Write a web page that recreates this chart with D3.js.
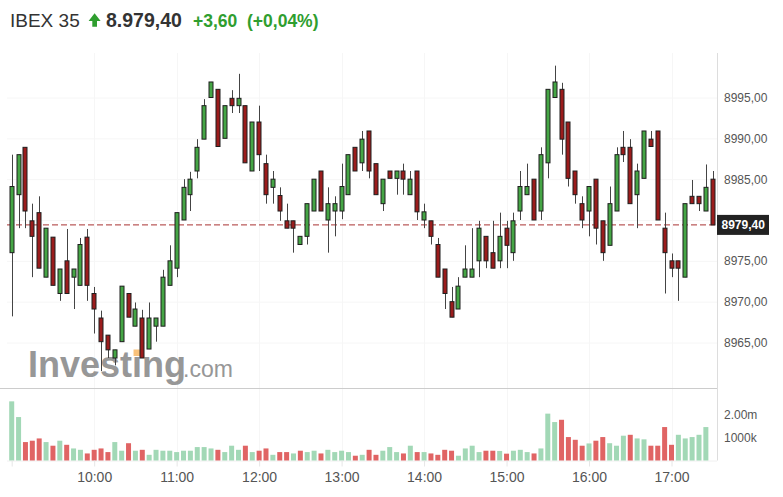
<!doctype html>
<html>
<head>
<meta charset="utf-8">
<style>
  body { margin: 0; background: #fff; }
  svg { display: block; font-family: "Liberation Sans", Arial, sans-serif; }
  .grid line { stroke: #f6f6f6; }
  .axis text { fill: #555; }
</style>
<script src="https://cdn.jsdelivr.net/npm/d3@7"></script>
</head>
<body>
<svg id="chart" width="783" height="497"></svg>
<script>

// IBEX 35, 5-minute candles from 09:00
var open = [
  8976.0, 8983.1, 8988.9, 8979.9, 8980.9, 8973.0, 8977.9, 8971.0, 8975.0, 8973.0,
  8972.0, 8977.9, 8971.0, 8968.0, 8965.9, 8963.1, 8965.1, 8971.0, 8967.0, 8968.0,
  8964.2, 8967.0, 8967.0, 8972.0, 8974.1, 8980.0, 8983.1, 8986.0, 8989.9, 8995.0,
  8996.0, 8990.0, 8994.9, 8994.0, 8994.0, 8986.0, 8992.0, 8986.9, 8984.0, 8983.0,
  8979.9, 8979.9, 8977.0, 8978.0, 8981.1, 8986.0, 8980.0, 8981.1, 8981.1, 8983.1,
  8988.9, 8987.0, 8990.9, 8986.9, 8982.0, 8986.0, 8985.1, 8986.0, 8983.1, 8986.0,
  8980.0, 8979.9, 8977.0, 8974.0, 8970.0, 8969.1, 8973.0, 8973.0, 8975.0, 8978.0,
  8976.0, 8975.0, 8979.0, 8976.0, 8981.1, 8983.1, 8985.0, 8981.1, 8987.0, 8995.0,
  8996.0, 8992.0, 8986.0, 8982.0, 8981.1, 8985.0, 8979.9, 8976.9, 8981.1, 8988.9,
  8988.9, 8983.1, 8985.1, 8989.9, 8990.9, 8979.0, 8975.0, 8975.0, 8973.0, 8982.9,
  8982.9, 8981.1, 8985.0];
var high = [
  8988.0, 8988.0, 8988.9, 8982.0, 8982.9, 8979.0, 8977.9, 8974.0, 8978.9, 8974.0,
  8977.8, 8978.9, 8971.8, 8968.9, 8965.9, 8964.1, 8971.9, 8971.0, 8969.9, 8969.0,
  8969.9, 8968.0, 8973.9, 8976.9, 8980.9, 8985.0, 8985.9, 8989.9, 8994.8, 8996.9,
  8996.0, 8994.0, 8995.9, 8997.9, 8994.0, 8992.0, 8994.0, 8988.0, 8986.0, 8984.0,
  8982.0, 8979.9, 8978.0, 8982.0, 8985.0, 8986.0, 8984.0, 8982.9, 8986.9, 8988.0,
  8988.9, 8990.9, 8990.9, 8986.9, 8985.0, 8986.0, 8986.0, 8986.9, 8986.0, 8986.0,
  8982.0, 8979.9, 8977.8, 8974.0, 8971.8, 8973.0, 8976.9, 8979.0, 8979.9, 8978.0,
  8979.9, 8980.9, 8979.9, 8980.9, 8986.0, 8986.9, 8985.0, 8988.9, 8996.0, 8998.9,
  8996.8, 8992.0, 8986.0, 8982.9, 8984.1, 8985.0, 8979.9, 8984.1, 8988.9, 8990.9,
  8989.9, 8986.9, 8990.9, 8990.9, 8990.9, 8980.9, 8975.9, 8975.0, 8982.0, 8984.9,
  8982.9, 8986.8, 8986.0];
var low = [
  8968.2, 8979.0, 8979.0, 8973.0, 8974.1, 8973.0, 8972.0, 8970.1, 8971.0, 8969.1,
  8972.0, 8970.1, 8966.1, 8961.5, 8963.1, 8962.2, 8965.1, 8968.1, 8967.0, 8963.1,
  8964.2, 8965.1, 8967.0, 8972.0, 8973.0, 8980.0, 8981.1, 8985.1, 8989.9, 8995.0,
  8989.0, 8990.0, 8993.1, 8993.1, 8987.0, 8986.0, 8986.0, 8982.0, 8982.0, 8979.9,
  8979.0, 8976.0, 8977.0, 8977.0, 8981.1, 8981.1, 8976.0, 8978.0, 8980.1, 8983.1,
  8986.0, 8986.0, 8985.1, 8983.1, 8981.1, 8985.1, 8983.1, 8983.1, 8983.1, 8980.0,
  8979.0, 8977.0, 8973.0, 8969.1, 8968.1, 8969.1, 8973.0, 8973.0, 8973.0, 8974.1,
  8974.1, 8974.1, 8974.1, 8975.0, 8980.0, 8983.1, 8980.0, 8980.0, 8985.1, 8995.0,
  8988.0, 8984.1, 8982.0, 8979.0, 8978.0, 8977.0, 8975.0, 8976.9, 8981.1, 8987.1,
  8982.0, 8979.0, 8985.1, 8989.0, 8980.0, 8971.0, 8973.0, 8970.1, 8973.0, 8982.0,
  8981.1, 8981.1, 8979.4];
var close = [
  8984.1, 8988.0, 8981.1, 8978.0, 8974.1, 8979.0, 8972.0, 8974.0, 8971.0, 8974.0,
  8977.0, 8972.0, 8969.1, 8965.1, 8964.1, 8964.1, 8971.9, 8968.1, 8969.1, 8963.1,
  8968.0, 8968.0, 8973.0, 8975.0, 8980.9, 8984.0, 8985.0, 8988.9, 8994.0, 8996.9,
  8989.0, 8994.0, 8994.0, 8994.9, 8987.0, 8992.0, 8988.0, 8983.1, 8985.0, 8981.1,
  8979.0, 8979.0, 8978.0, 8982.0, 8985.0, 8981.1, 8982.0, 8982.0, 8984.1, 8988.0,
  8986.0, 8989.9, 8986.0, 8983.1, 8985.0, 8985.1, 8986.0, 8985.0, 8985.0, 8981.0,
  8981.0, 8978.0, 8973.0, 8971.0, 8968.1, 8971.9, 8974.0, 8974.0, 8979.0, 8975.0,
  8974.1, 8978.0, 8976.9, 8979.9, 8984.1, 8984.1, 8980.0, 8988.0, 8996.0, 8996.9,
  8989.9, 8985.1, 8983.1, 8980.0, 8984.1, 8979.0, 8976.0, 8982.0, 8988.0, 8988.0,
  8982.0, 8986.0, 8990.9, 8989.0, 8980.0, 8976.0, 8974.1, 8974.1, 8982.0, 8982.0,
  8982.0, 8984.0, 8979.4];
// volume in thousands (last candle has no bar yet)
var volume = [
  2600, 1910, 810, 870, 970, 810, 650, 870, 690, 530,
  470, 310, 470, 530, 370, 810, 430, 760, 430, 470,
  250, 470, 430, 430, 370, 430, 430, 590, 590, 530,
  470, 370, 650, 470, 650, 370, 430, 530, 250, 370,
  370, 310, 430, 370, 430, 310, 470, 370, 430, 370,
  210, 250, 470, 250, 430, 590, 370, 310, 650, 370,
  370, 310, 250, 470, 430, 210, 530, 650, 370, 430,
  430, 420, 300, 430, 470, 370, 310, 530, 2060, 1690,
  1790, 1030, 910, 650, 750, 870, 1030, 760, 650, 1090,
  1130, 970, 930, 650, 650, 1470, 690, 1130, 970, 1030,
  1130, 1470];

var priceTicks = [8965, 8970, 8975, 8985, 8990, 8995];
var timeTicks = ["09:00", "10:00", "11:00", "12:00", "13:00", "14:00", "15:00", "16:00", "17:00"];
var volTicks = [2000, 1000];
var volTickLabels = ["2.00m", "1000k"];
var lastPrice = 8979.40, change = 3.60, changePct = 0.04;

var es = d3.formatLocale({ decimal: ",", thousands: ".", grouping: [3], currency: ["", ""] });
var fmt2 = es.format(".2f"), fmtHead = es.format(",.2f");

var parseTime = d3.timeParse("%H:%M");
var t0 = parseTime("09:00");
var times = open.map(function(d, i) { return d3.timeMinute.offset(t0, 5 * i); });

var svg = d3.select("#chart"),
    plotLeft = 7, plotRight = 717, plotTop = 53, sepY = 388.5, volBase = 460.5;

var x = d3.scaleTime().domain([parseTime("09:00"), parseTime("17:00")]).range([11.7, 671.5]);
var y = d3.scaleLinear().domain([8965, 8995]).range([342.5, 97.5]);
var yv = d3.scaleLinear().domain([0, 2000]).range([volBase, 415]);

// header
svg.append("text").attr("x", 10).attr("y", 26.5).attr("font-size", 19)
   .attr("fill", "#333").text("IBEX 35");
svg.append("path")
   .attr("d", "M94.6,13.3 L100.6,21 L97,21 L97,26.7 L92.3,26.7 L92.3,21 L88.6,21 Z")
   .attr("fill", "#2f9e2f");
svg.append("text").attr("x", 106).attr("y", 26.5).attr("font-size", 19.5)
   .attr("font-weight", "bold").attr("fill", "#333").text(fmtHead(lastPrice));
svg.append("text").attr("x", 193).attr("y", 26.5).attr("font-size", 17.5)
   .attr("font-weight", "bold").attr("fill", "#2f9e2f")
   .text("+" + fmt2(change) + "\u00a0\u00a0(+" + fmt2(changePct) + "%)");

// grid
var grid = svg.append("g").attr("class", "grid");
grid.selectAll(".hg").data(priceTicks.concat([8980])).enter().append("line")
    .attr("x1", plotLeft).attr("x2", plotRight)
    .attr("y1", function(d) { return y(d) + 0.5; }).attr("y2", function(d) { return y(d) + 0.5; });
grid.selectAll(".vg").data(timeTicks.slice(1)).enter().append("line")
    .attr("x1", function(d) { return Math.round(x(parseTime(d))) + 0.5; })
    .attr("x2", function(d) { return Math.round(x(parseTime(d))) + 0.5; })
    .attr("y1", plotTop).attr("y2", volBase);

// watermark
var logo = svg.append("g").attr("opacity", 0.85);
var inv = logo.append("text").attr("x", 28).attr("y", 377).attr("font-size", 36)
    .attr("font-weight", "bold").attr("fill", "#858585").text("Investing");
logo.append("text").attr("x", 183).attr("y", 377).attr("font-size", 23)
    .attr("fill", "#858585").text(".com");
var ext = inv.node().getExtentOfChar(6);
logo.append("rect").attr("x", ext.x + ext.width / 2 - 3.5).attr("y", 349.5)
    .attr("width", 7).attr("height", 6.5).attr("fill", "#f7b866");

// frame lines
svg.append("line").attr("x1", plotRight + 0.5).attr("x2", plotRight + 0.5)
   .attr("y1", plotTop).attr("y2", volBase).attr("stroke", "#ddd");
svg.append("line").attr("x1", 0).attr("x2", plotRight)
   .attr("y1", sepY).attr("y2", sepY).attr("stroke", "#ccc");
svg.append("line").attr("x1", plotLeft).attr("x2", plotRight)
   .attr("y1", volBase + 0.5).attr("y2", volBase + 0.5).attr("stroke", "#f0f0f0");

// last price line
svg.append("line").attr("x1", plotLeft).attr("x2", plotRight)
   .attr("y1", y(lastPrice)).attr("y2", y(lastPrice))
   .attr("stroke", "#a83232").attr("stroke-dasharray", "6,3");

// volume
var vw = 5;
svg.append("g").selectAll("rect").data(volume).enter().append("rect")
   .attr("x", function(d, i) { return x(times[i]) - vw / 2; })
   .attr("y", function(d) { return yv(d); })
   .attr("width", vw)
   .attr("height", function(d) { return volBase - yv(d); })
   .attr("fill", function(d, i) { return (i === 0 || close[i] >= close[i - 1]) ? "#a2d8b6" : "#e06464"; });

// candles
var bw = 5;
var candles = svg.append("g").selectAll("g").data(open).enter().append("g");
candles.append("line")
   .attr("x1", function(d, i) { return Math.round(x(times[i])) + 0.5; })
   .attr("x2", function(d, i) { return Math.round(x(times[i])) + 0.5; })
   .attr("y1", function(d, i) { return y(high[i]); })
   .attr("y2", function(d, i) { return y(low[i]); })
   .attr("stroke", "#444");
candles.append("rect")
   .attr("x", function(d, i) { return Math.round(x(times[i])) - 2; })
   .attr("y", function(d, i) { return y(Math.max(open[i], close[i])); })
   .attr("width", bw - 1)
   .attr("height", function(d, i) { return Math.max(1, Math.abs(y(open[i]) - y(close[i]))); })
   .attr("fill", function(d, i) { return close[i] >= open[i] ? "#45a545" : "#9b1c1c"; })
   .attr("stroke", "#1e1e1e").attr("stroke-width", 1);

// price axis
var pa = svg.append("g").attr("class", "axis")
   .attr("transform", "translate(" + plotRight + ",0)")
   .call(d3.axisRight(y).tickValues(priceTicks).tickFormat(fmt2).tickSize(0).tickPadding(7));
pa.select(".domain").remove();
pa.selectAll("text").attr("font-size", 12).attr("font-family", null);

// volume axis
var va = svg.append("g").attr("class", "axis")
   .attr("transform", "translate(" + plotRight + ",0)")
   .call(d3.axisRight(yv).tickValues(volTicks)
     .tickFormat(function(d, i) { return volTickLabels[i]; }).tickSize(0).tickPadding(7));
va.select(".domain").remove();
va.selectAll("text").attr("font-size", 12).attr("font-family", null);

// time axis
var ta = svg.append("g").attr("class", "axis")
   .attr("transform", "translate(0," + volBase + ")")
   .call(d3.axisBottom(x).tickValues(timeTicks.map(parseTime))
     .tickFormat(function(d) { return d.getHours() === 9 ? "" : d3.timeFormat("%H:%M")(d); })
     .tickSize(6).tickPadding(6));
ta.select(".domain").remove();
ta.selectAll("line").attr("stroke", "#e6e6e6");
ta.selectAll("text").attr("font-size", 14).attr("font-family", null);

// current price tag
var tagY = y(lastPrice);
svg.append("rect").attr("x", plotRight).attr("y", tagY - 10).attr("width", 52).attr("height", 20)
   .attr("fill", "#222");
svg.append("text").attr("x", plotRight + 4.5).attr("y", tagY + 4.5).attr("font-size", 12)
   .attr("font-weight", "bold").attr("fill", "#fff").text(fmt2(lastPrice));
</script>
</body>
</html>
